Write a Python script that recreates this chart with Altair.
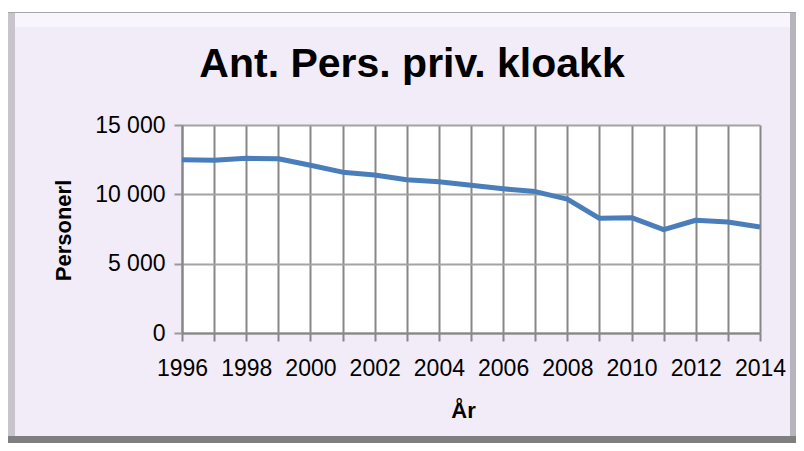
import altair as alt
import pandas as pd

years = list(range(1996, 2015))
persons = [12500, 12450, 12600, 12570, 12100, 11600, 11400, 11050, 10900, 10650,
           10400, 10200, 9650, 8270, 8320, 7450, 8130, 8000, 7650]
y_ticks = [0, 5000, 10000, 15000]
title_text = "Ant. Pers. priv. kloakk"
x_title = "År"
y_title = "Personerl"

df = pd.DataFrame({"year": years, "value": persons})
one = pd.DataFrame({"a": [0]})

FONT = "Liberation Sans"

line = alt.Chart(df).mark_line(color="#4A7EBB", strokeWidth=5, strokeJoin="round").encode(
    x=alt.X("year:Q",
            scale=alt.Scale(domain=[1996, 2014], nice=False, zero=False),
            axis=alt.Axis(values=years, title=x_title,
                          labelExpr="datum.value % 2 == 0 ? datum.value : ''",
                          labelOverlap=False, labelFlush=False,
                          labelFontSize=23, labelPadding=16,
                          labelColor="black", labelFont=FONT,
                          tickSize=8, tickColor="#878787", tickWidth=2,
                          domainColor="#878787", domainWidth=2,
                          grid=True, gridColor="#878787", gridWidth=2,
                          titleFont=FONT, titleFontSize=22, titleFontWeight="bold",
                          titleColor="black", titleX=281, titleY=84,
                          titleBaseline="alphabetic", titleAlign="center")),
    y=alt.Y("value:Q",
            scale=alt.Scale(domain=[0, 15000], nice=False),
            axis=alt.Axis(values=y_ticks, title=y_title,
                          labelExpr="replace(format(datum.value, ',d'), ',', ' ')",
                          labelFlush=False,
                          labelFontSize=23, labelPadding=9, labelColor="black",
                          labelFont=FONT,
                          tickSize=8, tickColor="#999999", tickWidth=2,
                          domainColor="#878787", domainWidth=2,
                          grid=True, gridColor="#A3A3A3", gridWidth=2,
                          titleFont=FONT, titleFontSize=22, titleFontWeight="bold",
                          titleColor="black", titleX=-112, titleY=105,
                          titleBaseline="alphabetic", titleAlign="center",
                          titleAngle=270)),
)

title = alt.Chart(one).mark_text(
    text=title_text, font=FONT, fontSize=41, fontWeight="bold", color="black",
    align="center", baseline="alphabetic"
).encode(x=alt.value(230), y=alt.value(-48))

# decorative frame (bevel)
top_white = alt.Chart(one).mark_rect(color="white").encode(
    x=alt.value(-174), x2=alt.value(614), y=alt.value(-117), y2=alt.value(-113))
top_band = alt.Chart(one).mark_rect(color="#F8F5FC").encode(
    x=alt.value(-174), x2=alt.value(614), y=alt.value(-113), y2=alt.value(-98))
top_line = alt.Chart(one).mark_rect(color="#A6A6A6").encode(
    x=alt.value(-174), x2=alt.value(614), y=alt.value(-113), y2=alt.value(-112))
left_bevel = alt.Chart(one).mark_rect(color="#C8C4CE").encode(
    x=alt.value(-174), x2=alt.value(-167), y=alt.value(-112), y2=alt.value(318))
right_bevel = alt.Chart(one).mark_rect(color="#B8B4BE").encode(
    x=alt.value(608), x2=alt.value(614), y=alt.value(-112), y2=alt.value(318))
bottom_bevel = alt.Chart(one).mark_rect(color="#7F7F7F").encode(
    x=alt.value(-174), x2=alt.value(614), y=alt.value(311), y2=alt.value(318))

chart = alt.layer(
    top_white, top_band, top_line, left_bevel, right_bevel, bottom_bevel, line, title
).properties(
    width=578, height=208,
    padding={"left": 174, "top": 117, "right": 36, "bottom": 110},
    autosize=alt.AutoSizeParams(type="none"),
    background="#F1ECF8",
).configure_view(fill="white", strokeWidth=0)

chart.save("out.html", embed_options={"renderer": "svg", "actions": False})
